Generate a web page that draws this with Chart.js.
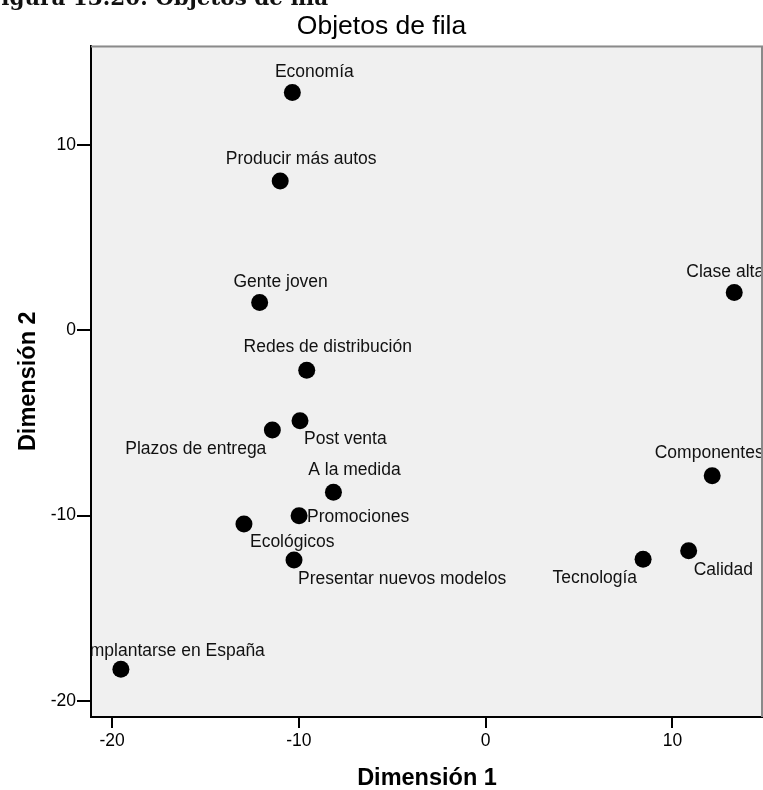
<!DOCTYPE html>
<html><head><meta charset="utf-8">
<script src="https://cdn.jsdelivr.net/npm/chart.js@4.4.1/dist/chart.umd.min.js"></script>
<style>
html,body{margin:0;padding:0;background:#fff;overflow:hidden;width:763px;height:790px}
#wrap{position:relative;width:763px;height:790px;overflow:hidden}
#hdr{position:absolute;left:-14px;top:-13px;font:bold 21.5px/22px "DejaVu Serif";white-space:nowrap;color:#111;z-index:2}
canvas{position:absolute;left:0;top:0}
</style></head><body>
<div id="wrap"><div id="hdr">Figura 13.20. Objetos de fila</div><canvas id="c" width="763" height="790"></canvas></div>
<script>
// ---- data ----
const categories = ["Economía","Producir más autos","Gente joven","Redes de distribución","Post venta","Plazos de entrega","A la medida","Promociones","Ecológicos","Presentar nuevos modelos","Implantarse en España","Clase alta","Componentes","Calidad","Tecnología"];
const dim1 = [-10.35,-11.0,-12.1,-9.58,-9.94,-11.42,-8.15,-9.99,-12.94,-10.26,-19.53,13.31,12.13,10.87,8.43];
const dim2 = [12.83,8.05,1.49,-2.16,-4.89,-5.39,-8.75,-10.01,-10.46,-12.4,-18.29,2.03,-7.85,-11.9,-12.36];
const xTicks = [-20,-10,0,10];
const yTicks = [-20,-10,0,10];
const chartTitle = "Objetos de fila";
const xTitle = "Dimensión 1";
const yTitle = "Dimensión 2";

// ---- label placement (style only) ----
const labelPlace = {
  "Economía":[22,-20,"center"],
  "Producir más autos":[21,-22,"center"],
  "Gente joven":[21,-20,"center"],
  "Redes de distribución":[21,-23,"center"],
  "Post venta":[4,18,"left"],
  "Plazos de entrega":[-6,19,"right"],
  "A la medida":[21,-22,"center"],
  "Promociones":[8,1,"left"],
  "Ecológicos":[6,18,"left"],
  "Presentar nuevos modelos":[4,19,"left"],
  "Implantarse en España":[-36,-18,"left"],
  "Clase alta":[-9,-20,"center"],
  "Componentes":[-3,-23,"center"],
  "Calidad":[5,19,"left"],
  "Tecnología":[-6,19,"right"]
};
const FONT = '"Liberation Sans", Arial, sans-serif';

const areaPlugin = {
  id:'areaPlugin',
  beforeDraw(chart){
    const {ctx, chartArea:a} = chart;
    ctx.save(); ctx.fillStyle = '#f0f0f0';
    ctx.fillRect(a.left, a.top, a.right-a.left, a.bottom-a.top);
    ctx.restore();
  },
  afterDraw(chart){
    const {ctx, chartArea:a} = chart;
    ctx.save();
    ctx.strokeStyle = '#8a8a8a'; ctx.lineWidth = 2;
    ctx.beginPath();
    ctx.moveTo(a.left, a.top+1); ctx.lineTo(a.right-1, a.top+1); ctx.lineTo(a.right-1, a.bottom);
    ctx.stroke();
    ctx.restore();
  }
};

const labelPlugin = {
  id:'labelPlugin',
  afterDatasetsDraw(chart){
    const {ctx, chartArea:a} = chart;
    const meta = chart.getDatasetMeta(0);
    ctx.save();
    ctx.beginPath(); ctx.rect(a.left+1, a.top, a.right-a.left-3, a.bottom-a.top); ctx.clip();
    ctx.font = '17.5px ' + FONT;
    ctx.fillStyle = '#111';
    ctx.textBaseline = 'middle';
    meta.data.forEach((pt, i) => {
      const name = categories[i];
      const p = labelPlace[name] || [21,-21,'center'];
      ctx.textAlign = p[2];
      ctx.fillText(name, pt.x + p[0], pt.y + p[1]);
    });
    ctx.restore();
  }
};

new Chart(document.getElementById('c'), {
  type:'scatter',
  data:{ datasets:[{
    data: dim1.map((x,i)=>({x, y: dim2[i]})),
    backgroundColor:'#000', borderColor:'#000', borderWidth:0,
    pointRadius:8.5, pointHoverRadius:8.5
  }]},
  options:{
    responsive:false, devicePixelRatio:1, animation:false,
    layout:{padding:0, autoPadding:false},
    plugins:{
      legend:{display:false}, tooltip:{enabled:false},
      title:{display:true, text:chartTitle, color:'#000',
        font:{family:FONT, size:26.5, weight:'normal', lineHeight:1},
        padding:{top:13, bottom:6}}
    },
    scales:{
      x:{ type:'linear', min:-21.13, max:14.85,
        afterBuildTicks: s => { s.ticks = xTicks.map(v=>({value:v})); },
        afterFit: s => { s.height = 73; s.paddingLeft = 0; s.paddingRight = 0; },
        grid:{drawOnChartArea:false, drawTicks:true, tickLength:11, color:'#000', lineWidth:2},
        border:{display:true, color:'#000', width:2},
        ticks:{color:'#000', font:{family:FONT, size:17.5}, padding:3, maxRotation:0, autoSkip:false},
        title:{display:true, text:xTitle, color:'#000', font:{family:FONT, size:23.5, weight:'bold', lineHeight:1}, padding:{top:0, bottom:0}}
      },
      y:{ type:'linear', min:-20.87, max:15.36,
        afterBuildTicks: s => { s.ticks = yTicks.map(v=>({value:v})); },
        afterFit: s => { s.width = 91; s.paddingTop = 0; s.paddingBottom = 0; },
        grid:{drawOnChartArea:false, drawTicks:true, tickLength:14, color:'#000', lineWidth:2},
        border:{display:true, color:'#000', width:2},
        ticks:{color:'#000', font:{family:FONT, size:17.5}, padding:1, autoSkip:false},
        title:{display:true, text:yTitle, color:'#000', font:{family:FONT, size:23.5, weight:'bold', lineHeight:1.2}, padding:{top:14, bottom:0}}
      }
    }
  },
  plugins:[areaPlugin, labelPlugin]
});
</script>
</body></html>
